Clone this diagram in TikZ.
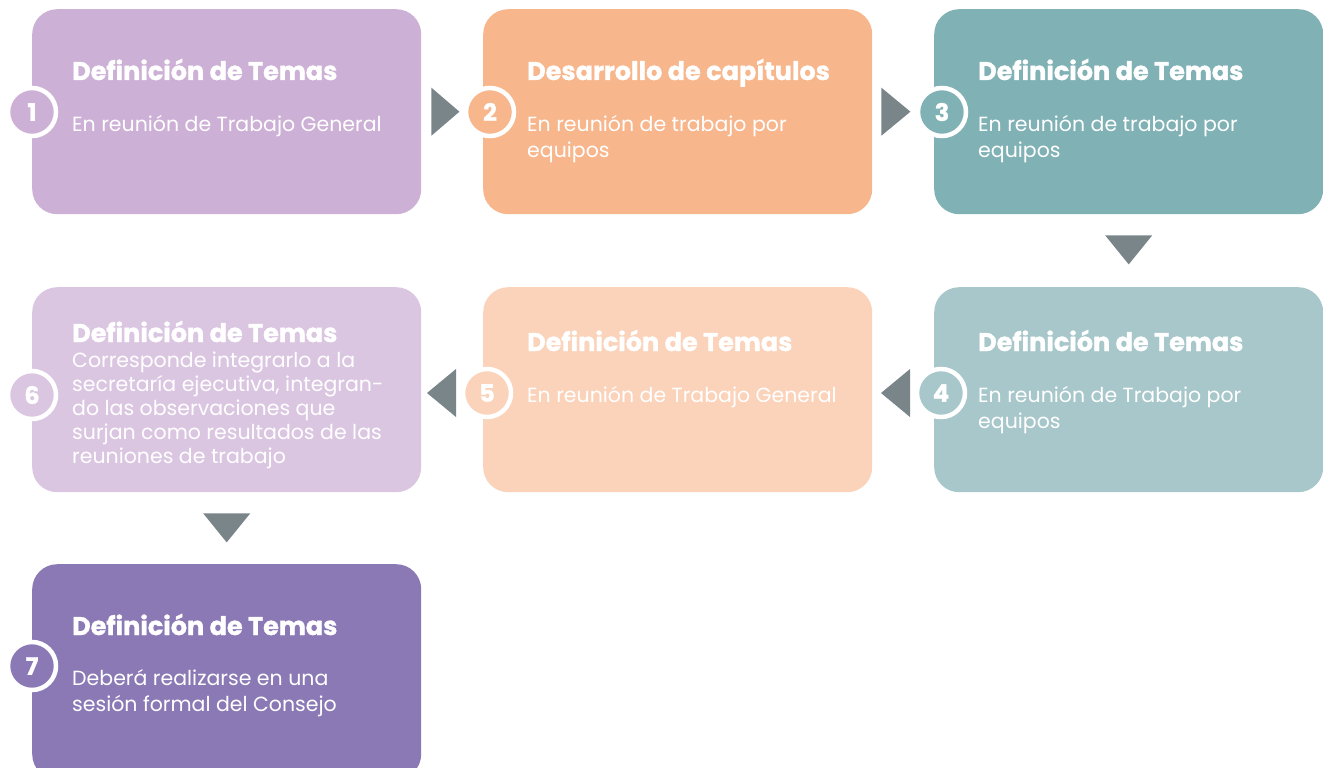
\documentclass[tikz,border=0pt]{standalone}
\usepackage{fontspec}
\setmainfont{Poppins}[BoldFeatures={FakeBold=1.2}]
\usetikzlibrary{calc}
\definecolor{cA}{HTML}{CDB0D6}
\definecolor{cB}{HTML}{F7B68C}
\definecolor{cC}{HTML}{80B1B5}
\definecolor{cD}{HTML}{A7C7CA}
\definecolor{cE}{HTML}{FAD3BA}
\definecolor{cF}{HTML}{DBC6E2}
\definecolor{cG}{HTML}{8B79B5}
\definecolor{arrowc}{HTML}{7A858A}
\newcommand{\ttl}[1]{{\fontsize{25.5}{30}\selectfont\bfseries #1}}
\newcommand{\bodytxt}[2]{{\fontsize{20.5}{#1}\selectfont\begin{tabular}[t]{@{}l@{}}#2\end{tabular}}}
\begin{document}
\begin{tikzpicture}[x=1pt,y=-1pt,
  card/.style={rounded corners=25pt, minimum width=389pt, minimum height=205pt, anchor=north west, inner sep=0pt},
  numc/.style={circle, draw=white, line width=4.5pt, minimum size=48pt, inner sep=0pt, text=white, font=\fontsize{24}{24}\selectfont\bfseries},
  txt/.style={anchor=base west, inner sep=0pt, text=white},
  tri/.style={fill=arrowc}]
\useasboundingbox (0,0) rectangle (1323,768);
% cards
\node[card, fill=cA] (b1) at (32,9) {};
\node[card, fill=cB] (b2) at (483,9) {};
\node[card, fill=cC] (b3) at (934,9) {};
\node[card, fill=cF] (b6) at (32,287) {};
\node[card, fill=cE] (b5) at (483,287) {};
\node[card, fill=cD] (b4) at (934,287) {};
\node[card, fill=cG, minimum height=215pt] (b7) at (32,564) {};
% number circles
\node[numc, fill=cA] (n1) at (32,112) {1};
\node[numc, fill=cB] (n2) at (490,112) {2};
\node[numc, fill=cC] (n3) at (942,112) {3};
\node[numc, fill=cD] (n4) at (941,393) {4};
\node[numc, fill=cE] (n5) at (487,393) {5};
\node[numc, fill=cF] (n6) at (32,395) {6};
\node[numc, fill=cG] (n7) at (32,666) {7};
% texts
\node[txt] (t1) at (72,80) {\ttl{Definición de Temas}};
\node[txt] (d1) at (72,131) {\bodytxt{26}{En reunión de Trabajo General}};
\node[txt] (t2) at (527,80) {\ttl{Desarrollo de capítulos}};
\node[txt] (d2) at (527,131) {\bodytxt{26}{En reunión de trabajo por\\equipos}};
\node[txt] (t3) at (978,80) {\ttl{Definición de Temas}};
\node[txt] (d3) at (978,131) {\bodytxt{26}{En reunión de trabajo por\\equipos}};
\node[txt] (t4) at (978,351) {\ttl{Definición de Temas}};
\node[txt] (d4) at (978,402) {\bodytxt{26}{En reunión de Trabajo por\\equipos}};
\node[txt] (t5) at (527,351) {\ttl{Definición de Temas}};
\node[txt] (d5) at (527,402) {\bodytxt{26}{En reunión de Trabajo General}};
\node[txt] (t6) at (72,342) {\ttl{Definición de Temas}};
\node[txt] (d6) at (72,367) {\bodytxt{24}{Corresponde integrarlo a la\\secretaría ejecutiva, integran-\\do las observaciones que\\surjan como resultados de las\\reuniones de trabajo}};
\node[txt] (t7) at (72,635) {\ttl{Definición de Temas}};
\node[txt] (d7) at (72,685) {\bodytxt{26}{Deberá realizarse en una\\sesión formal del Consejo}};
% connector triangles
\fill[tri] ($(b1.east)+(10,-24)$) -- ($(b1.east)+(10,24)$) -- ($(b1.east)+(38,0)$) -- cycle;
\fill[tri] ($(b2.east)+(9,-24)$) -- ($(b2.east)+(9,24)$) -- ($(b2.east)+(38,0)$) -- cycle;
\fill[tri] ($(b3.south)+(-23.5,21)$) -- ($(b3.south)+(23.5,21)$) -- ($(b3.south)+(0,50)$) -- cycle;
\fill[tri] ($(b4.west |- n4)+(-24,-24)$) -- ($(b4.west |- n4)+(-24,24)$) -- ($(b4.west |- n4)+(-53,0)$) -- cycle;
\fill[tri] ($(b5.west |- n5)+(-27,-24)$) -- ($(b5.west |- n5)+(-27,24)$) -- ($(b5.west |- n5)+(-56,0)$) -- cycle;
\fill[tri] ($(b6.south)+(-23.5,21)$) -- ($(b6.south)+(23.5,21)$) -- ($(b6.south)+(0,50)$) -- cycle;
\end{tikzpicture}
\end{document}
